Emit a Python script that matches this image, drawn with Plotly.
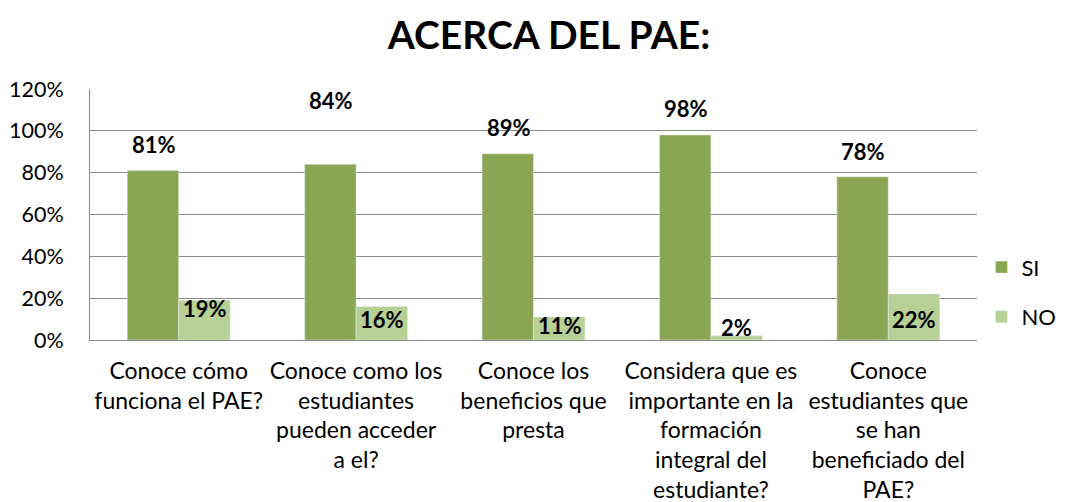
import plotly.graph_objects as go

categories = [
    "Conoce cómo<br>funciona el PAE?",
    "Conoce como los<br>estudiantes<br>pueden acceder<br>a el?",
    "Conoce los<br>beneficios que<br>presta",
    "Considera que es<br>importante en la<br>formación<br>integral del<br>estudiante?",
    "Conoce<br>estudiantes que<br>se han<br>beneficiado del<br>PAE?",
]
si_values = [0.81, 0.84, 0.89, 0.98, 0.78]
no_values = [0.19, 0.16, 0.11, 0.02, 0.22]
y_ticks = [0, 0.2, 0.4, 0.6, 0.8, 1.0, 1.2]

SI_COLOR = "#8aa652"
NO_COLOR = "#b8cf95"
FONT = "Lato, Calibri, sans-serif"

fig = go.Figure()
fig.add_trace(go.Bar(x=categories, y=si_values, name="SI", marker_color=SI_COLOR,
                     legendgroup="si"))
fig.add_trace(go.Bar(x=categories, y=no_values, name="NO", marker_color=NO_COLOR,
                     legendgroup="no"))

# label offsets (pixels) roughly as placed in the original chart
si_shift = [26, 64, 26, 27, 25]
no_shift = [-8, -13, -9, 8, -26]
for cat, v, s in zip(categories, si_values, si_shift):
    fig.add_annotation(x=cat, y=v, text=f"<b>{round(v*100)}%</b>", showarrow=False,
                       xshift=-25, yshift=s, font=dict(size=22, color="#000", family=FONT))
for cat, v, s in zip(categories, no_values, no_shift):
    fig.add_annotation(x=cat, y=v, text=f"<b>{round(v*100)}%</b>", showarrow=False,
                       xshift=26, yshift=s, font=dict(size=22, color="#000", family=FONT))

# page body has an 8px margin, so the figure is sized/placed to compensate
fig.update_layout(
    width=1065, height=494,
    margin=dict(l=82, r=93, t=81, b=162),
    paper_bgcolor="white", plot_bgcolor="white",
    font=dict(family=FONT, size=22, color="#000"),
    title=dict(text="<b>ACERCA DEL PAE:</b>", x=0.508, xanchor="center", y=0.945,
               yanchor="middle", font=dict(size=39, family=FONT, color="#000"),
               automargin=False),
    barmode="group", bargap=0.42, bargroupgap=0,
    legend=dict(x=1.005, y=0.19, yanchor="middle", xanchor="left",
                font=dict(size=22, family=FONT), tracegroupgap=18, itemwidth=30,
                traceorder="grouped", bgcolor="rgba(0,0,0,0)"),
    showlegend=True,
)
fig.update_yaxes(range=[0, 1.2], tickvals=y_ticks, tickformat=".0%",
                 showgrid=True, gridcolor="#8c8c8c", gridwidth=1,
                 showline=True, linecolor="#8c8c8c", linewidth=1,
                 zeroline=False, ticks="", ticklabelstandoff=21, automargin=False,
                 tickfont=dict(size=21.5, family=FONT))
fig.update_xaxes(showline=True, linecolor="#8c8c8c", linewidth=1,
                 ticks="", tickangle=0, ticklabelstandoff=10, automargin=False,
                 tickfont=dict(size=23, family=FONT))

fig.write_html("out.html")
